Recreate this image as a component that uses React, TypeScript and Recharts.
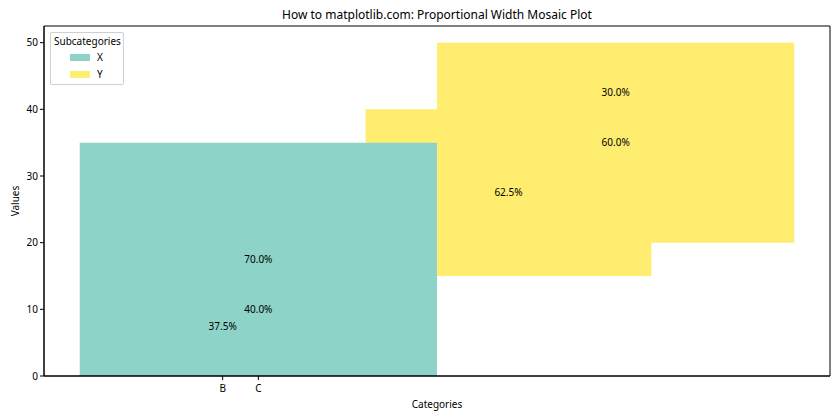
import React from 'react';
import { ComposedChart, XAxis, YAxis, ReferenceArea, Scatter, LabelList } from 'recharts';

const FONT = '"Noto Sans", "DejaVu Sans", sans-serif';

const subcategories = ['X', 'Y'];
const subColors = ['#8dd3c7', '#ffed6f'];

// blocks as they show up, in drawing order (data coords)
const blockSub = ['Y', 'Y', 'X'];
const blockLeft = [0.4, 0.5, 0.0];
const blockRight = [0.8, 1.0, 0.5];
const blockBottom = [15, 20, 0];
const blockTop = [40, 50, 35];

// percentage labels
const pctText = ['37.5%', '40.0%', '70.0%', '62.5%', '60.0%', '30.0%'];
const pctX = [0.2, 0.25, 0.25, 0.6, 0.75, 0.75];
const pctY = [7.5, 10, 17.5, 27.5, 35, 42.5];

const xTicks = [0.2, 0.25];
const xTickLabels = ['B', 'C'];
const yTicks = [0, 10, 20, 30, 40, 50];

const labelData = pctText.map((t, i) => ({ x: pctX[i], y: pctY[i], text: t }));

const colorOf = (s: string) => subColors[subcategories.indexOf(s)];

export default function App() {
  return (
    <div style={{ position: 'absolute', left: 0, top: 0, width: 840, height: 420, background: '#fff', fontFamily: FONT }}>
      <div style={{ position: 'absolute', left: 437, top: 14, transform: 'translate(-50%, -50%)', fontSize: 12, whiteSpace: 'nowrap', color: '#000' }}>
        How to matplotlib.com: Proportional Width Mosaic Plot
      </div>
      <ComposedChart width={840} height={420} data={labelData} margin={{ top: 26, right: 10, bottom: 0, left: 0 }}>
        <XAxis
          type="number"
          dataKey="x"
          domain={[-0.05, 1.05]}
          allowDataOverflow
          ticks={xTicks}
          interval={0}
          tickFormatter={(v) => xTickLabels[xTicks.indexOf(v)]}
          height={44}
          tickSize={4}
          tickMargin={5}
          axisLine={{ stroke: '#000' }}
          tickLine={{ stroke: '#000' }}
          tick={{ fill: '#000', fontSize: 10, fontFamily: FONT }}
        />
        <YAxis
          type="number"
          dataKey="y"
          domain={[0, 52.5]}
          allowDataOverflow
          ticks={yTicks}
          interval={0}
          width={44}
          tickSize={4}
          axisLine={{ stroke: '#000' }}
          tickLine={{ stroke: '#000' }}
          tick={{ fill: '#000', fontSize: 10, fontFamily: FONT }}
        />
        {blockSub.map((s, i) => (
          <ReferenceArea
            key={i}
            x1={blockLeft[i]}
            x2={blockRight[i]}
            y1={blockBottom[i]}
            y2={blockTop[i]}
            fill={colorOf(s)}
            fillOpacity={1}
            stroke="none"
          />
        ))}
        <Scatter dataKey="y" isAnimationActive={false} shape={() => <g />}>
          <LabelList dataKey="text" position="center" fill="#000" fontSize={10} fontFamily={FONT} />
        </Scatter>
        <ReferenceArea x1={-0.05} x2={1.05} y1={0} y2={52.5} fill="none" fillOpacity={0} stroke="#000" strokeWidth={1} />
      </ComposedChart>
      <div style={{ position: 'absolute', left: 15, top: 201, transform: 'translate(-50%, -50%) rotate(-90deg)', fontSize: 10, color: '#000' }}>
        Values
      </div>
      <div style={{ position: 'absolute', left: 437, top: 404, transform: 'translate(-50%, -50%)', fontSize: 10, color: '#000' }}>
        Categories
      </div>
      <div style={{ position: 'absolute', left: 50, top: 32, width: 72, height: 51, border: '1px solid #d0d0d0', borderRadius: 2, background: '#fff', fontSize: 10, color: '#000' }}>
        <div style={{ position: 'absolute', left: 3, top: 1 }}>Subcategories</div>
        {subcategories.map((s, i) => (
          <div key={s} style={{ position: 'absolute', left: 19, top: 21 + i * 17, width: 20, height: 7, background: subColors[i] }} />
        ))}
        {subcategories.map((s, i) => (
          <div key={s + 't'} style={{ position: 'absolute', left: 46, top: 17 + i * 17, lineHeight: '14px' }}>{s}</div>
        ))}
      </div>
    </div>
  );
}
